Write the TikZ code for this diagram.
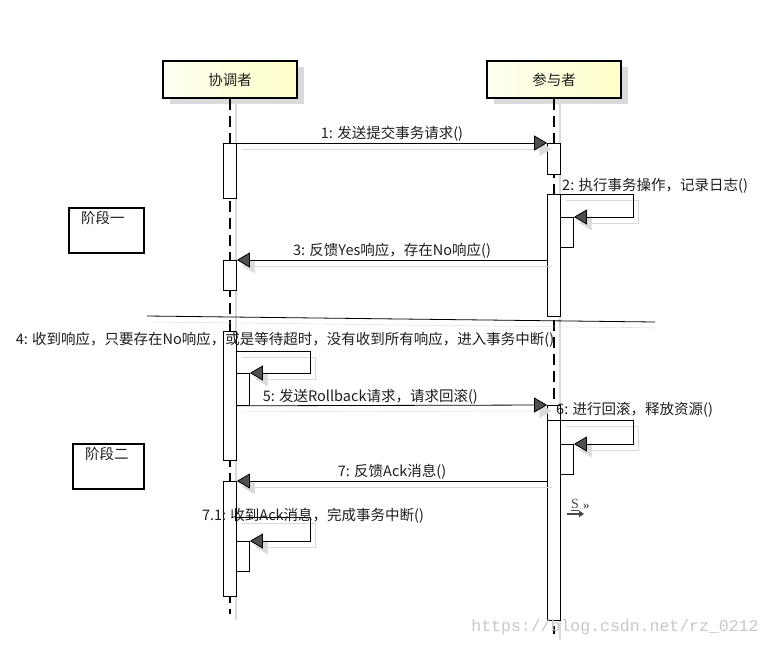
\documentclass[tikz,border=0pt]{standalone}
\usepackage{fontspec}
\setmainfont{Noto Sans CJK SC}
\newfontfamily\urlfont{Liberation Mono}
\newfontfamily\iconfont{Liberation Serif}
\usepackage{tikz}
\usetikzlibrary{arrows.meta}
\usetikzlibrary{shadows}
\usetikzlibrary{calc}
\definecolor{box-yellow}{RGB}{255, 255, 200}
\definecolor{box-light}{RGB}{255, 255, 242}
\definecolor{shadow-gray}{RGB}{218, 218, 218}
\definecolor{tip-gray}{RGB}{80, 80, 80}
\definecolor{mark-gray}{RGB}{200, 200, 200}
\definecolor{text-dark}{RGB}{30, 30, 30}

\tikzset{
  every node/.style={font=\fontsize{14.5}{16}\selectfont, inner sep=1pt, text=text-dark},
  agent/.style={draw, line width=2pt, left color=box-light, right color=box-yellow,
    minimum width=134pt, minimum height=37pt,
    drop shadow={shadow xshift=7pt, shadow yshift=-6pt, fill=shadow-gray, opacity=1}},
  lifeline/.style={line width=1.2pt, dash pattern=on 11pt off 6pt},
  lifeshadow/.style={line width=1.2pt, shadow-gray},
  act/.style={draw, fill=white, line width=0.8pt, minimum width=13pt, inner sep=0pt, anchor=north},
  shadowline/.style={preaction={draw=shadow-gray, transform canvas={shift={(5pt,-6pt)}}}},
  msg/.style={line width=0.8pt, -{Triangle[length=13pt,width=15pt,fill=tip-gray]},
    preaction={draw=shadow-gray, -{Triangle[length=13pt,width=15pt,fill=shadow-gray]},
      transform canvas={shift={(5pt,-6pt)}}}},
  phase/.style={draw, line width=1.6pt, minimum width=75pt, minimum height=45pt, anchor=north west},
  phasetext/.style={anchor=north west, xshift=12pt, yshift=-3pt}
}

\begin{document}
\begin{tikzpicture}[x=1pt,y=-1pt]
   \fill[use as bounding box,white] (0,0) rectangle (771,646);

   % participants and lifelines
   \node[agent] (coord) at (230,79.5) {协调者};
   \node[agent] (part) at (554,79.5) {参与者};
   \coordinate (coordEnd) at (230,614);
   \coordinate (partEnd) at (554,634);
   \draw[lifeshadow] ([xshift=6pt]coord.south) -- ([xshift=6pt,yshift=-6pt]coordEnd);
   \draw[lifeshadow] ([xshift=6pt]part.south) -- ([xshift=6pt,yshift=-6pt]partEnd);
   \draw[lifeline] (coord.south) -- (coordEnd);
   \draw[lifeline] (part.south) -- (partEnd);

   % activations
   \node[act, minimum height=55pt] (c1) at (230,143) {};
   \node[act, minimum height=31pt] (p1) at (554,143) {};
   \node[act, minimum height=122pt] (p2) at (554,194) {};
   \node[act, minimum height=30pt] (p2n) at (567,217) {};
   \node[act, minimum height=30pt] (c2) at (230,260) {};
   \node[act, minimum height=129pt] (c4) at (230,331) {};
   \node[act, minimum height=32pt] (c4n) at (243,373) {};
   \node[act, minimum height=215pt] (p5) at (554,405) {};
   \node[act, minimum height=200pt] (p6) at (554,420) {};
   \node[act, minimum height=30pt] (p6n) at (567,444) {};
   \node[act, minimum height=115pt] (c7) at (230,481) {};
   \node[act, minimum height=30pt] (c7n) at (243,541) {};

   % phase one
   \draw[msg] (c1.north east) -- node[above] {1: 发送提交事务请求()} (p1.north west);
   \draw[msg] (p2.north east) -- ++(72,0) |- (p2n.north east);
   \node[anchor=west] (l2) at (561,186) {2: 执行事务操作，记录日志()};
   \draw[msg] (p2.west |- c2.north) -- node[above] {3: 反馈Yes响应，存在No响应()} (c2.north east);
   \node[phase, label={[phasetext]north west:阶段一}] (ph1) at (68,207) {};

   % separator
   \coordinate (sepL) at (147,316);
   \coordinate (sepR) at (655,322);
   \draw[line width=0.8pt, shadowline] (sepL) -- (sepR);

   % phase two
   \draw[msg] ([yshift=-20pt]c4.north east) -- ++(73,0) |- (c4n.north east);
   \node (l4) at (285,340) {4: 收到响应，只要存在No响应，或是等待超时，没有收到所有响应，进入事务中断()};
   \draw[msg] (c4.east |- c4n.south) -- node[above, pos=0.43] {5: 发送Rollback请求，请求回滚()} (p5.north west);
   \draw[msg] (p6.north east) -- ++(72,0) |- (p6n.north east);
   \node[anchor=west] (l6) at (555,410) {6: 进行回滚，释放资源()};
   \draw[msg] (p6.west |- c7.north) -- node[above] {7: 反馈Ack消息()} (c7.north east);
   \draw[msg] ([yshift=-36pt]c7.north east) -- ++(73,0) |- (c7n.north east);
   \node (l7a) at (313,516) {7.1: 收到Ack消息，完成事务中断()};
   \node[phase, minimum width=71pt, label={[phasetext]north west:阶段二}] (ph2) at (72,443) {};

   % signal icon
   \node[font=\iconfont\fontsize{14}{14}\selectfont, text=gray!60!black] (sig) at (575,505) {\underline{S}};
   \node[anchor=west, font=\iconfont\fontsize{13}{13}\selectfont] (sigmark) at (582,507) {»};
   \draw[line width=2.2pt, gray!55!black, -{Triangle[length=5pt,width=6.5pt]}] ([xshift=-8pt,yshift=-2pt]sig.south) -- ([xshift=9pt,yshift=-2pt]sig.south);

   % watermark
   \node[text=mark-gray, font=\urlfont\fontsize{16.5}{18}\selectfont] (mark) at (615,627) {https://blog.csdn.net/rz\_0212};
\end{tikzpicture}
\end{document}
